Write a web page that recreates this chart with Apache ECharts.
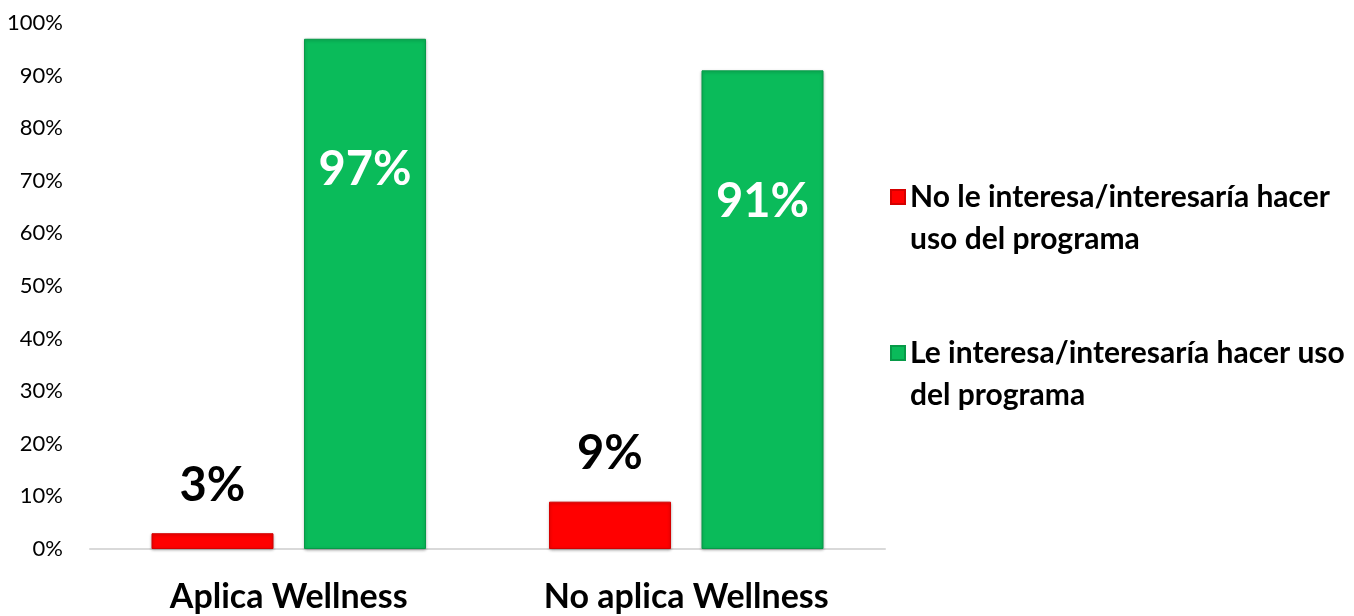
<!DOCTYPE html>
<html>
<head>
<meta charset="utf-8">
<script src="https://cdn.jsdelivr.net/npm/echarts@6/dist/echarts.min.js"></script>
<style>
  html, body { margin: 0; padding: 0; background: #fff; }
  #main { width: 1354px; height: 616px; }
</style>
</head>
<body>
<div id="main"></div>
<script>
const categories = ['Aplica Wellness', 'No aplica Wellness'];
const seriesNames = [
  'No le interesa/interesaría hacer\nuso del programa',
  'Le interesa/interesaría hacer uso\ndel programa'
];
const noInteresa = [3, 9];
const siInteresa = [97, 91];

const chart = echarts.init(document.getElementById('main'));
const font = 'Lato, "Open Sans", sans-serif';

chart.setOption({
  animation: false,
  textStyle: { fontFamily: font },
  grid: { left: 90, right: 469, top: 23, bottom: 67 },
  legend: {
    orient: 'vertical',
    left: 890,
    top: 134,
    padding: 0,
    itemWidth: 14,
    itemHeight: 14,
    itemGap: 30,
    icon: 'rect',
    // blank first line so the icon sits beside the first text line
    formatter: name => '\n' + name,
    textStyle: {
      fontFamily: font,
      fontWeight: 'bold',
      fontSize: 30,
      color: '#000',
      lineHeight: 42
    },
    data: seriesNames
  },
  xAxis: {
    type: 'category',
    data: categories,
    axisTick: { show: false },
    axisLine: { lineStyle: { color: '#d9d9d9', width: 2 } },
    axisLabel: {
      margin: 31,
      fontSize: 34,
      fontWeight: 'bold',
      color: '#000',
      fontFamily: font
    }
  },
  yAxis: {
    type: 'value',
    min: 0,
    max: 100,
    interval: 10,
    splitLine: { show: false },
    axisLine: { show: false },
    axisTick: { show: false },
    axisLabel: {
      formatter: '{value}%',
      margin: 27,
      fontSize: 22,
      color: '#000',
      fontFamily: font
    }
  },
  series: [
    {
      name: seriesNames[0],
      type: 'bar',
      data: noInteresa,
      barWidth: 122,
      barGap: '25%',
      itemStyle: {
        color: '#ff0000',
        borderColor: '#d40000',
        borderWidth: 1,
        shadowBlur: 3,
        shadowColor: 'rgba(0,0,0,0.3)',
        shadowOffsetY: 1
      },
      label: {
        show: true,
        position: 'top',
        distance: 24,
        formatter: '{c}%',
        fontSize: 47,
        fontWeight: 'bold',
        color: '#000',
        fontFamily: font
      }
    },
    {
      name: seriesNames[1],
      type: 'bar',
      data: siInteresa,
      barWidth: 122,
      itemStyle: {
        color: '#0abb5a',
        borderColor: '#079a48',
        borderWidth: 1,
        shadowBlur: 3,
        shadowColor: 'rgba(0,0,0,0.3)',
        shadowOffsetY: 1
      },
      label: {
        show: true,
        position: 'insideTop',
        distance: 108,
        formatter: '{c}%',
        fontSize: 47,
        fontWeight: 'bold',
        color: '#fff',
        fontFamily: font
      }
    }
  ]
});
</script>
</body>
</html>
